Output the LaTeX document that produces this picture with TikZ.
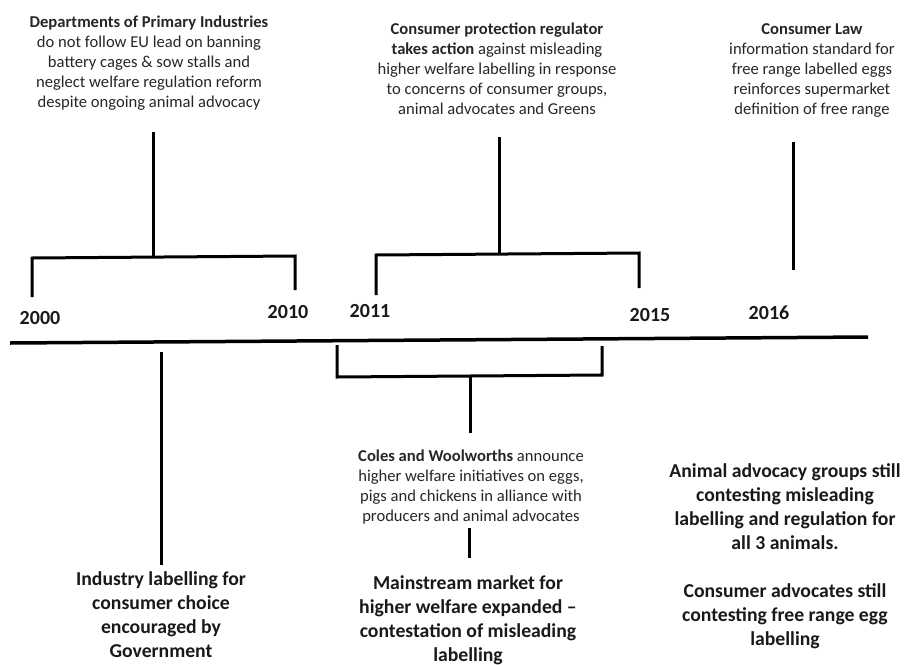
\documentclass[tikz,border=0pt]{standalone}
\usepackage{fontspec}
\setmainfont{Carlito}
\begin{document}
\begin{tikzpicture}[x=1pt,y=-1pt,line width=3pt,
    desc/.style={align=center,inner sep=0pt,text=black!85,
        font=\fontsize{16.6}{20}\selectfont},
    outcome/.style={align=center,inner sep=0pt,text=black!90,
        font=\fontsize{19.7}{24}\selectfont\bfseries},
    year/.style={inner sep=0pt,text=black!90,
        font=\fontsize{20}{24}\selectfont\bfseries},
    bracket/.style={line width=3pt,line join=miter}]
    \useasboundingbox (0,0) rectangle (904,664);

    \node[desc] (dpi) at (149,63) {\textbf{Departments of Primary Industries}\\do not follow EU lead on banning\\battery cages \& sow stalls and\\neglect welfare regulation reform\\despite ongoing animal advocacy};
    \node[desc] (accc) at (497,69) {\textbf{Consumer protection regulator}\\\textbf{takes action} against misleading\\higher welfare labelling in response\\to concerns of consumer groups,\\animal advocates and Greens};
    \node[desc] (law) at (812,70) {\textbf{Consumer Law}\\information standard for\\free range labelled eggs\\reinforces supermarket\\definition of free range};

    \node[year] (y2000) at (40,318) {2000};
    \node[year] (y2010) at (288,312) {2010};
    \node[year] (y2011) at (370,311) {2011};
    \node[year] (y2015) at (650,315) {2015};
    \node[year] (y2016) at (769,313) {2016};

    \node[desc] (coles) at (471,487) {\textbf{Coles and Woolworths} announce\\higher welfare initiatives on eggs,\\pigs and chickens in alliance with\\producers and animal advocates};
    \node[outcome] (market) at (468,620) {Mainstream market for\\higher welfare expanded --\\contestation of misleading\\labelling};
    \node[outcome] (industry) at (161,615) {Industry labelling for\\consumer choice\\encouraged by\\Government};
    \node[outcome] (contest) at (785,556) {Animal advocacy groups still\\contesting misleading\\labelling and regulation for\\all 3 animals.\\[24pt]Consumer advocates still\\contesting free range egg\\labelling};

    \coordinate (t0) at (10,343);
    \coordinate (t1) at (868,337);
    \draw[line width=3.5pt] (t0) -- (t1);

    \coordinate (a0) at (32,297);
    \coordinate (a0t) at (32,258);
    \coordinate (a1t) at (295,256);
    \coordinate (a1) at (295,290);
    \coordinate (as) at (153,132);
    \coordinate (aj) at (153,257);
    \draw[bracket] (a0) -- (a0t) -- (a1t) -- (a1);
    \draw[bracket] (as) -- (aj);

    \coordinate (b0) at (376,295);
    \coordinate (b0t) at (376,255);
    \coordinate (b1t) at (639,253);
    \coordinate (b1) at (639,288);
    \coordinate (bs) at (499,137);
    \coordinate (bj) at (499,254);
    \draw[bracket] (b0) -- (b0t) -- (b1t) -- (b1);
    \draw[bracket] (bs) -- (bj);

    \coordinate (cs) at (793,142);
    \coordinate (ce) at (793,270);
    \draw[bracket] (cs) -- (ce);

    \coordinate (d0) at (337,345);
    \coordinate (d0b) at (337,377);
    \coordinate (d1b) at (602,375);
    \coordinate (d1) at (602,346);
    \coordinate (dj) at (470,376);
    \coordinate (ds) at (470,433);
    \draw[bracket] (d0) -- (d0b) -- (d1b) -- (d1);
    \draw[bracket] (dj) -- (ds);

    \coordinate (es) at (469,528);
    \coordinate (ee) at (469,558);
    \draw[bracket] (es) -- (ee);

    \coordinate (fs) at (161,352);
    \coordinate (fe) at (161,565);
    \draw[bracket] (fs) -- (fe);
\end{tikzpicture}
\end{document}
